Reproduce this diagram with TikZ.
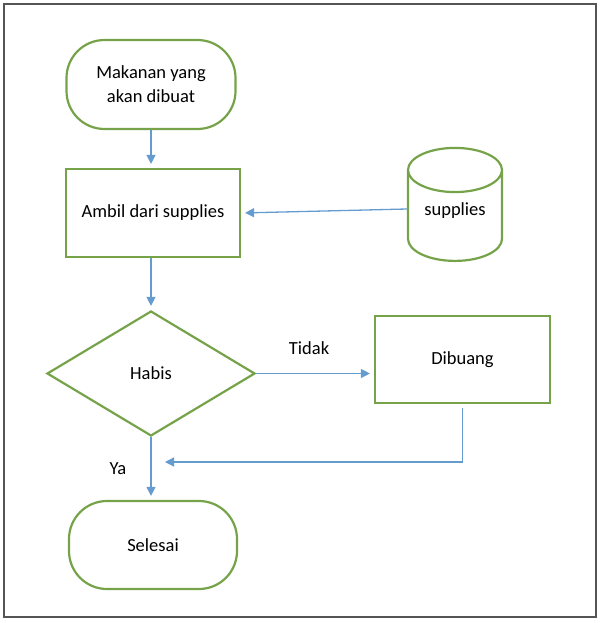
\documentclass[tikz,border=0pt]{standalone}
\usepackage{fontspec}
\setmainfont{Carlito}
\usepackage{xcolor}
\usepackage{tikz}
\usetikzlibrary{shapes.geometric,arrows.meta}
\definecolor{boxgreen}{RGB}{118,163,74}
\definecolor{flowblue}{RGB}{100,156,208}
\definecolor{framegray}{RGB}{85,85,85}

\begin{document}
\begin{tikzpicture}[x=1pt,y=-1pt]
\tikzstyle{every node}+=[inner sep=0pt, font=\fontsize{18.5}{24}\selectfont]
\tikzstyle{terminal}=[draw=boxgreen, line width=2.2pt, rectangle, rounded corners=38pt, minimum width=169pt, minimum height=89pt, align=center]
\tikzstyle{process}=[draw=boxgreen, line width=2.2pt, rectangle, minimum width=174pt, minimum height=88pt]
\tikzstyle{decision}=[draw=boxgreen, line width=2.2pt, diamond, minimum width=208pt, minimum height=125pt]
\tikzstyle{store}=[draw=boxgreen, line width=2.2pt, cylinder, shape border rotate=90, aspect=0.72, minimum width=94pt, minimum height=113pt, text depth=14pt]
\tikzstyle{flow}=[draw=flowblue, line width=1.3pt, -{Triangle[length=9pt,width=9pt]}, shorten >=4pt]
\useasboundingbox (0,0) rectangle (600,623);
\draw [framegray, line width=2.5pt] (4,4) rectangle (596,617);
\node [terminal] (makanan) at (151,84.5) {Makanan yang\\akan dibuat};
\node [process] (ambil) at (153,213) {Ambil dari supplies};
\node [store] (supplies) at (455,216) {supplies};
\node [decision] (habis) at (151,373.5) {Habis};
\node [process, minimum width=175pt, minimum height=87pt] (dibuang) at (462.5,359.5) {Dibuang};
\node [terminal, minimum width=168pt, minimum height=88pt] (selesai) at (153,545) {Selesai};
\coordinate (back) at (161,462);
\draw [flow] (makanan.south) -- (makanan.south |- ambil.north);
\draw [flow] ([yshift=7pt]supplies.west) -- (ambil.east);
\draw [flow] (ambil.south -| habis.north) -- (habis.north);
\draw [flow] (habis.east) -- node [pos=0.45, above=18pt] {Tidak} (habis.east -| dibuang.west);
\draw [flow] ([yshift=-4pt]dibuang.south) |- (back);
\draw [flow] (habis.south) -- node [left=24pt] {Ya} (habis.south |- selesai.north);
\end{tikzpicture}
\end{document}
